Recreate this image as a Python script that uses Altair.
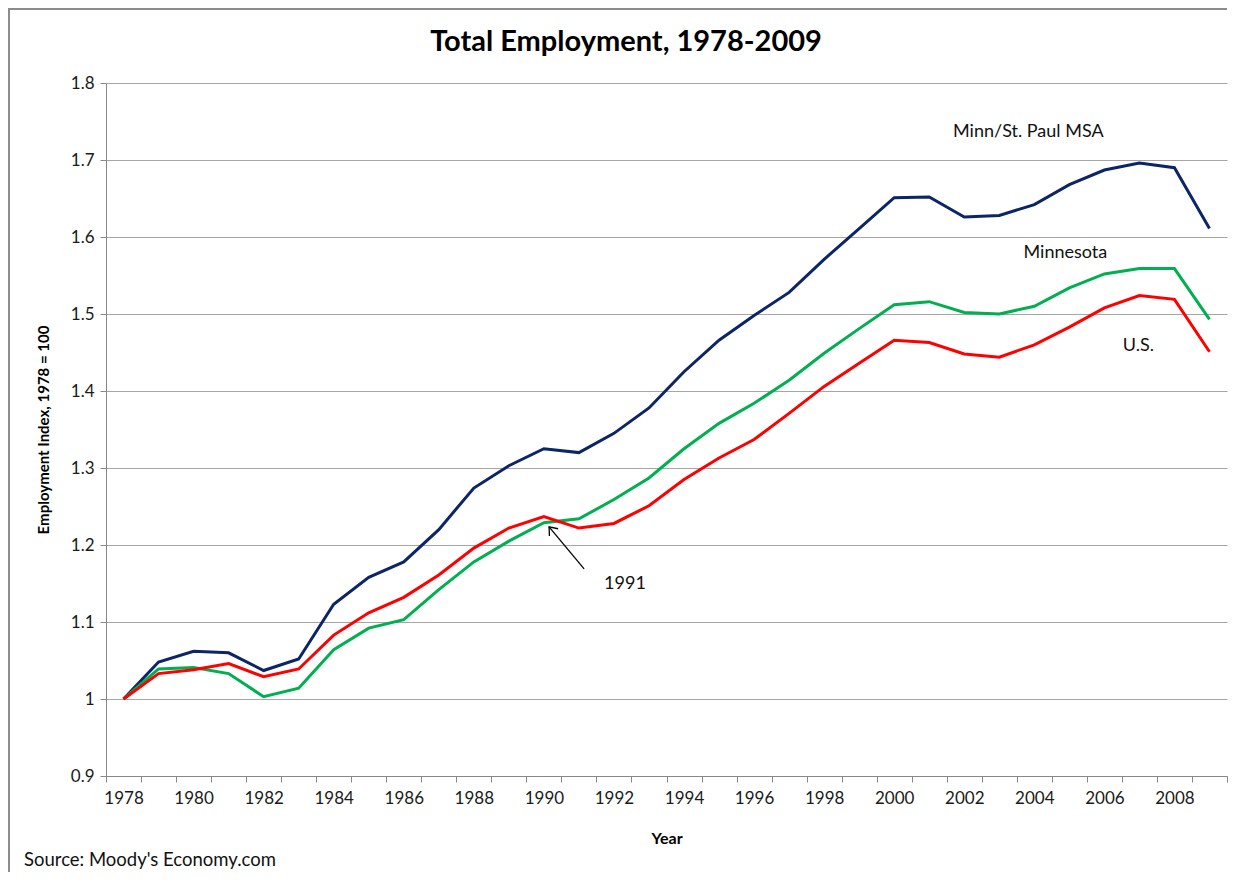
import altair as alt
import pandas as pd

# ---- data ----
years = [str(y) for y in range(1978, 2010)]
msa = [1.000, 1.048, 1.062, 1.060, 1.037, 1.052, 1.123, 1.158, 1.178, 1.220,
       1.274, 1.303, 1.325, 1.320, 1.345, 1.378, 1.425, 1.466, 1.498, 1.528,
       1.571, 1.611, 1.651, 1.652, 1.626, 1.628, 1.642, 1.668, 1.687, 1.696,
       1.690, 1.611]
mn = [1.000, 1.039, 1.041, 1.033, 1.003, 1.014, 1.064, 1.092, 1.103, 1.142,
      1.178, 1.205, 1.229, 1.234, 1.259, 1.287, 1.325, 1.358, 1.384, 1.414,
      1.449, 1.481, 1.512, 1.516, 1.502, 1.500, 1.510, 1.534, 1.552, 1.559,
      1.559, 1.493]
us = [1.000, 1.033, 1.038, 1.046, 1.029, 1.039, 1.083, 1.112, 1.132, 1.161,
      1.196, 1.222, 1.237, 1.222, 1.228, 1.251, 1.285, 1.313, 1.337, 1.371,
      1.406, 1.436, 1.466, 1.463, 1.448, 1.444, 1.460, 1.483, 1.508, 1.524,
      1.519, 1.451]
series_names = ["Minn/St. Paul MSA", "Minnesota", "U.S."]
series_colors = ["#0B2566", "#00B050", "#FF0000"]
y_ticks = [0.9, 1.0, 1.1, 1.2, 1.3, 1.4, 1.5, 1.6, 1.7, 1.8]

# annotation labels: text, year, value, horizontal nudge
ann_text = ["Minn/St. Paul MSA", "Minnesota", "U.S.", "1991"]
ann_year = ["2004", "2005", "2007", "1993"]
ann_value = [1.737, 1.579, 1.459, 1.150]
ann_dx = [-6, -4, -1, -24]

# arrow from the "1991" label to the 1990/91 turning point
arrow_year = ["1990", "1991"]
arrow_value = [1.2236, 1.169]

TITLE = "Total Employment, 1978-2009"
SOURCE = "Source: Moody's Economy.com"

FONT = "Lato"
W, H = 1121, 693
PAD_R, PAD_B = 4, 96

x_enc = alt.X("year:O", scale=alt.Scale(domain=years, paddingInner=0, paddingOuter=0),
              axis=alt.Axis(title="Year",
                            labelExpr="toNumber(datum.value) % 2 == 0 ? datum.label : ''",
                            labelAngle=0, labelOverlap=False, tickBand="extent",
                            tickSize=6, tickColor="#888888", domainColor="#888888",
                            labelFont=FONT, labelFontSize=17, labelColor="#1A1A1A",
                            labelPadding=8, grid=False,
                            titleFont=FONT, titleFontSize=16, titleFontWeight="bold",
                            titleColor="#000000", titleX=W / 2, titleY=62,
                            titleBaseline="middle"))
y_enc = alt.Y("value:Q", scale=alt.Scale(domain=[0.9, 1.8], nice=False, zero=False),
              axis=alt.Axis(title="Employment Index, 1978 = 100", values=y_ticks,
                            format=".1~f", tickSize=6, tickColor="#888888",
                            domainColor="#888888", gridColor="#A6A6A6",
                            labelFont=FONT, labelFontSize=17, labelColor="#1A1A1A",
                            labelPadding=6,
                            titleFont=FONT, titleFontSize=15, titleFontWeight="bold",
                            titleColor="#000000", titleAngle=270, titleX=-63,
                            titleY=H / 2, titleAlign="center", titleBaseline="middle"))

color_scale = alt.Scale(domain=series_names, range=series_colors)

layers = []
for name, vals in [("Minn/St. Paul MSA", msa), ("Minnesota", mn), ("U.S.", us)]:
    df = pd.DataFrame({"year": years, "value": vals, "series": name})
    layers.append(
        alt.Chart(df).mark_line(strokeWidth=3).encode(
            x=x_enc, y=y_enc,
            color=alt.Color("series:N", scale=color_scale, legend=None))
    )

for t, yr, v, dx in zip(ann_text, ann_year, ann_value, ann_dx):
    df = pd.DataFrame({"year": [yr], "value": [v], "label": [t]})
    layers.append(
        alt.Chart(df).mark_text(font=FONT, fontSize=18, color="#111111",
                                align="center", baseline="middle", dx=dx).encode(
            x="year:O", y="value:Q", text="label:N")
    )

# with an xOffset the band scale places points at the band start, so the
# offset is measured from there
arrow_df = pd.DataFrame({"year": arrow_year, "value": arrow_value})
layers.append(
    alt.Chart(arrow_df).mark_line(color="#000000", strokeWidth=1.3).encode(
        x="year:O", y="value:Q", xOffset=alt.value(22.7))
)
tip_df = pd.DataFrame({"year": [arrow_year[0]], "value": [arrow_value[0]]})
layers.append(
    alt.Chart(tip_df).mark_point(shape="M-0.7,0.9L0,0L0.7,0.9", filled=False,
                                 stroke="#000000", strokeWidth=1.3, size=260,
                                 angle=320, opacity=1).encode(
        x="year:O", y="value:Q", xOffset=alt.value(22.7))
)

# title, source note and outer frame (kept inside the drawing area)
layers.append(
    alt.Chart(pd.DataFrame({"t": [TITLE]})).mark_text(
        font=FONT, fontSize=29, fontWeight="bold", color="#000000",
        align="center", baseline="middle"
    ).encode(x=alt.value(520), y=alt.value(-41), text="t:N")
)
layers.append(
    alt.Chart(pd.DataFrame({"t": [SOURCE]})).mark_text(
        font=FONT, fontSize=18.5, color="#111111", align="left", baseline="middle"
    ).encode(x=alt.value(-82), y=alt.value(777), text="t:N")
)
layers.append(
    alt.Chart(pd.DataFrame({"a": [0]})).mark_rule(
        color="#8C8C8C", strokeWidth=2, clip=False
    ).encode(x=alt.value(-97), y=alt.value(-75), y2=alt.value(H + PAD_B))
)
layers.append(
    alt.Chart(pd.DataFrame({"a": [0]})).mark_rule(
        color="#8C8C8C", strokeWidth=2, clip=False
    ).encode(x=alt.value(-98), x2=alt.value(W), y=alt.value(-74))
)

chart = alt.layer(*layers).properties(
    width=W, height=H,
    autosize=alt.AutoSizeParams(type="none"),
    padding={"left": 98, "top": 75, "right": PAD_R, "bottom": PAD_B},
    background="white",
).configure_view(strokeWidth=0)

chart.save("out.html", embed_options={"renderer": "svg", "actions": False})
